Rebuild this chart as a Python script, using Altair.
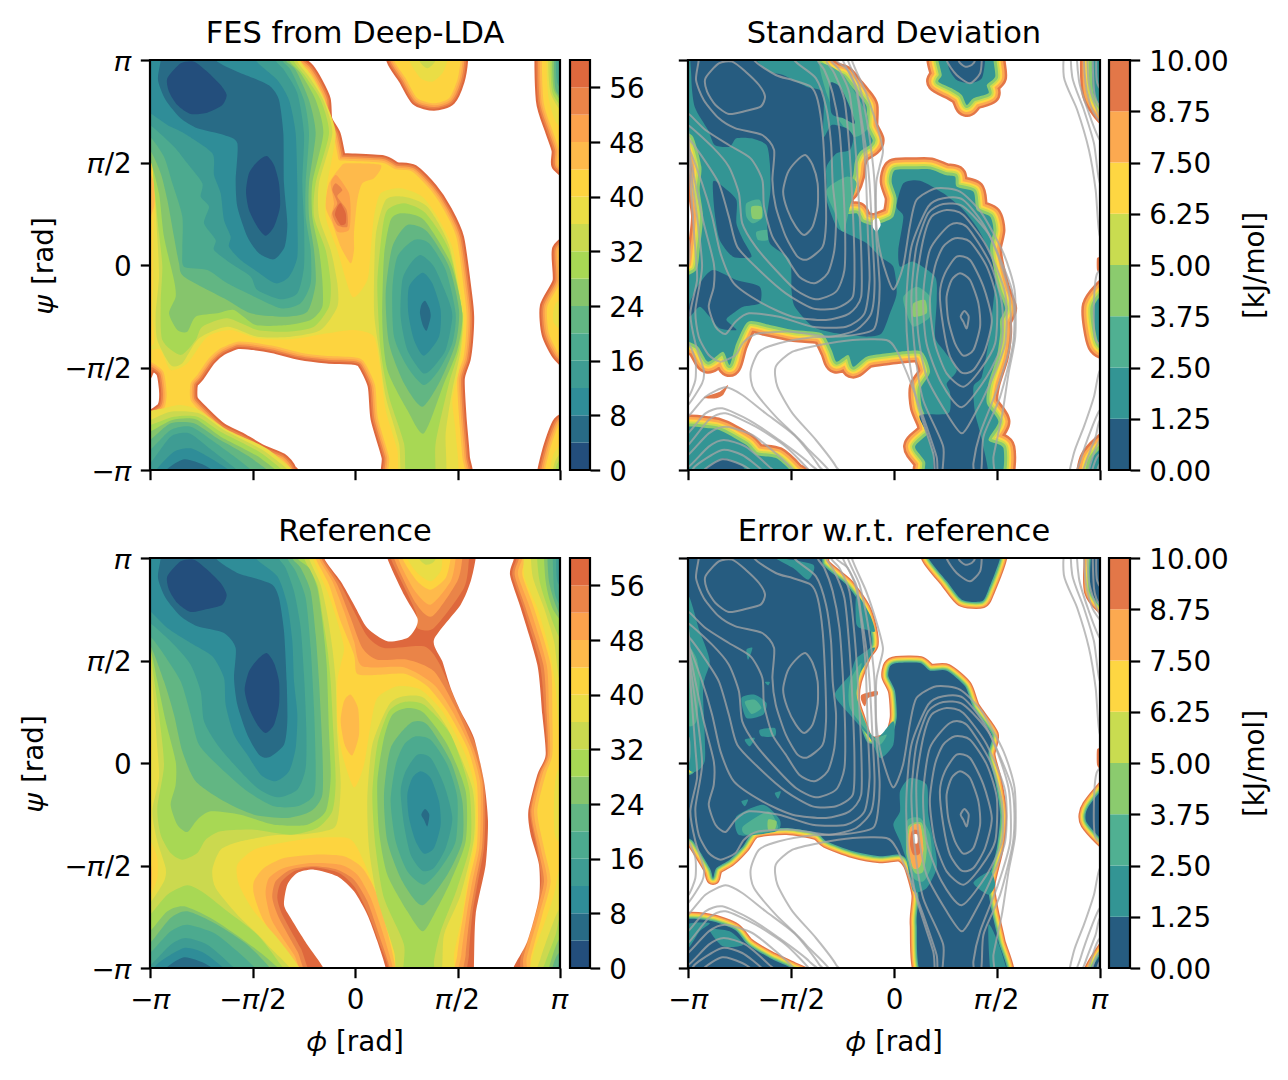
import math
import altair as alt
import pandas as pd

PI = math.pi
FONT = "DejaVu Sans"
FS = 27.8

FES_COLORS = ["#234e7c", "#286b86", "#2f8d98", "#3e9c93", "#4caa8f", "#62b683", "#86c56c", "#a8d854",
              "#cbd94f", "#eadd45", "#fdd43f", "#feba4b", "#fca24c", "#ea8448", "#de683d"]
ERR_COLORS = ["#265c80", "#339594", "#50b092", "#8bcb6e", "#c9dc50", "#fed642", "#fca950", "#e37748"]
FES_TICKS = [0, 8, 16, 24, 32, 40, 48, 56]
ERR_TICKS = [0, 1.25, 2.5, 3.75, 5, 6.25, 7.5, 8.75, 10]

# contours, flat x,y pairs on a 1230-bin grid per axis
# ---- reference FES, sublevel sets ----
REF_L4 = [[80,85,120,40,160,35,200,65,240,105,258,140,245,170,200,183,150,192,110,165,85,125],
          [378,315,400,345,415,400,415,470,400,530,375,555,350,530,325,480,312,425,325,370,350,335]]
REF_L8 = [[52,90,75,150,120,205,170,235,250,255,285,300,280,390,290,470,320,560,355,620,385,628,430,590,440,520,438,400,430,250,415,150,395,110,340,90,290,75,225,30,225,-30,60,-30,60,30],
          [853,783,866,800,860,835,850,815,842,800],
          [75,1262,130,1228,190,1245,225,1270,225,1300,75,1300]]
REF_L12 = [[0,190,28,190,80,240,150,285,215,325,250,390,255,470,280,560,320,620,360,680,405,700,445,670,465,600,470,500,460,400,455,280,440,170,410,85,345,30,345,-30,0,-30],
           [840,670,870,690,895,760,900,830,880,900,850,917,825,880,805,810,800,740,815,690],
           [40,1262,60,1240,130,1200,190,1215,250,1262,270,1300,40,1300]]
REF_L16 = [[0,225,28,225,100,290,150,350,180,430,190,520,230,590,290,660,350,720,410,748,470,725,495,660,497,540,490,380,480,240,460,130,435,60,415,30,415,-30,0,-30],
           [830,620,870,630,910,710,935,810,915,900,880,960,845,968,810,920,790,830,780,730,795,670],
           [0,1250,30,1250,90,1190,135,1170,200,1190,270,1250,310,1300,0,1300],
           [1252,-30,1250,100,1300,140,1300,-30]]
REF_L20 = [[0,265,28,265,70,320,120,400,150,500,175,590,240,660,320,730,400,775,470,775,520,740,525,640,520,480,510,300,495,150,465,70,440,30,440,-30,0,-30],
           [825,565,870,575,920,650,950,750,945,880,900,960,850,1010,800,970,765,880,750,760,765,650,790,590],
           [0,1215,28,1215,90,1150,140,1130,220,1155,290,1210,345,1262,370,1300,0,1300],
           [1240,-30,1240,120,1258,170,1300,170,1300,-30],
           [1245,1300,1258,1240,1300,1230,1300,1300]]
REF_L24 = [[0,290,28,290,70,400,100,500,125,610,165,700,250,760,340,800,440,810,510,790,545,740,545,600,535,400,525,260,510,130,480,60,455,30,455,-30,0,-30],
           [810,525,860,530,930,640,965,760,965,880,920,980,845,1072,785,1000,740,880,730,740,750,600],
           [0,1185,28,1185,90,1110,140,1090,230,1130,320,1190,390,1262,410,1300,0,1300],
           [1225,-30,1225,100,1258,200,1300,210,1300,-30],
           [1230,1300,1250,1220,1300,1200,1300,1300]]
REF_L28 = [[0,300,28,300,50,400,75,520,105,640,105,710,90,770,110,830,140,852,170,815,210,790,300,800,400,830,500,830,555,790,570,690,565,550,558,350,545,220,530,120,505,60,470,30,470,-30,0,-30],
           [800,480,850,495,920,590,975,730,975,880,930,1000,880,1100,845,1150,800,1090,740,980,715,850,710,700,730,570,755,500],
           [0,1150,28,1150,80,1090,130,1075,210,1110,300,1170,390,1240,420,1300,0,1300],
           [1215,-30,1215,100,1240,190,1300,240,1300,-30],
           [1220,1300,1235,1225,1258,1170,1300,1160,1300,1300]]
REF_L32 = [[0,240,28,240,35,350,55,500,70,650,50,780,60,860,90,915,125,935,170,915,195,875,240,850,340,845,450,860,530,840,575,790,585,700,578,550,570,400,560,300,545,200,530,110,490,30,490,-30,0,-30],
           [745,490,790,462,850,470,930,560,985,720,990,880,950,1020,900,1150,880,1240,880,1300,790,1300,790,1190,730,1050,705,900,695,740,710,590],
           [0,1100,28,1100,80,1040,140,1012,190,1035,260,1090,350,1160,420,1250,440,1300,0,1300],
           [1195,-30,1195,90,1225,190,1258,270,1300,270,1300,-30],
           [1200,1300,1215,1240,1245,1160,1258,1110,1300,1110,1300,1300]]
REF_L36 = [[0,-30,505,-30,505,30,540,110,560,200,575,300,585,400,590,560,600,700,595,790,580,840,500,858,400,862,300,880,240,905,215,965,225,1020,290,1100,380,1190,450,1300,0,1300,0,1070,28,1065,70,1000,75,960,50,880,35,790,55,690,50,600,35,400,28,250,0,240],
           [745,470,790,445,850,450,920,540,995,720,1000,870,960,1040,910,1160,895,1300,775,1300,760,1210,710,1050,685,900,680,750,695,590],
           [835,-30,835,30,855,50,875,45,885,30,885,-30],
           [1180,-30,1175,80,1210,180,1240,280,1258,400,1300,400,1300,-30],
           [1185,1300,1200,1230,1235,1130,1258,1080,1300,1060,1300,1300]]
REF_L40 = [[0,-30,517,-30,517,30,560,130,590,220,610,300,600,350,590,400,590,520,605,620,640,718,670,650,690,530,710,450,770,415,840,425,905,490,970,610,1003,720,1005,860,985,970,965,1100,940,1220,935,1300,785,1300,770,1220,730,1100,690,990,650,900,620,870,520,870,420,885,340,905,290,950,295,1010,340,1090,410,1170,470,1250,480,1300,0,1300,0,1060,30,1040,50,990,50,930,30,880,0,860,0,660,30,640,30,570,0,550],
           [800,-30,800,30,830,75,870,100,900,70,905,30,905,-30],
           [1165,-30,1150,80,1190,180,1225,300,1245,420,1258,560,1300,560,1300,-30],
           [1300,650,1250,670,1240,760,1245,870,1300,880],
           [1300,960,1258,960,1240,1040,1210,1130,1180,1210,1170,1300,1300,1300]]
# reference FES, superlevel sets painted over the base colour
REF_H44 = [[525,-30,525,30,565,110,600,220,640,320,650,378,720,380,795,378,860,415,920,490,980,600,1008,700,1012,800,1008,900,985,1000,968,1100,950,1220,950,1300,1160,1300,1170,1230,1205,1100,1230,1000,1210,900,1190,790,1215,680,1235,620,1235,500,1230,350,1180,180,1145,80,1155,30,1155,-30,930,-30,930,30,915,90,870,125,830,100,785,30,785,-30],
           [495,1300,440,1220,370,1120,340,1040,340,1000,370,960,430,930,520,920,610,925,665,960,705,1030,740,1150,765,1260,765,1300],
           [630,440,652,480,655,560,635,622,612,590,600,520,610,460],
           [10,900,33,960,30,1030,10,1040]]
REF_H48 = [[535,-30,535,30,575,100,610,190,640,280,665,355,790,358,880,410,935,490,990,600,1018,700,1020,800,1016,900,995,1000,978,1100,962,1220,960,1300,1150,1300,1158,1230,1195,1100,1220,1000,1200,900,1180,790,1205,680,1228,620,1225,500,1218,350,1168,180,1132,80,1145,30,1145,-30,945,-30,945,30,930,100,870,170,820,125,772,30,772,-30],
           [510,1300,460,1220,395,1120,375,1040,385,990,430,960,510,945,600,950,650,980,690,1050,725,1150,757,1260,757,1300]]
REF_H52 = [[542,-30,542,30,590,110,630,210,665,300,710,335,800,335,880,370,945,480,998,600,1025,700,1028,800,1024,900,1005,1000,988,1100,975,1220,975,1300,1140,1300,1148,1230,1185,1100,1210,1000,1192,900,1172,790,1198,680,1222,620,1218,500,1208,350,1155,180,1122,80,1135,30,1135,-30,965,-30,965,30,950,100,875,205,825,165,760,30,760,-30],
           [520,1300,470,1210,415,1110,395,1050,405,1000,450,965,520,955,590,965,640,995,680,1060,715,1160,748,1260,748,1300]]
REF_H56 = [[548,-30,548,30,600,110,640,190,680,265,730,300,850,295,895,345,950,470,1005,590,1030,700,1034,800,1030,900,1012,1000,995,1100,985,1220,985,1300,1130,1300,1140,1230,1180,1100,1202,1000,1188,900,1168,790,1194,680,1218,620,1212,500,1198,350,1148,180,1115,80,1128,30,1128,-30,985,-30,985,30,970,120,880,240,830,240,825,190,750,30,750,-30],
           [532,1300,480,1200,425,1100,410,1050,420,1005,460,970,520,958,595,975,640,1015,675,1080,710,1170,742,1300]]
REF_H60 = [[550,-30,550,30,600,100,640,170,680,240,740,280,800,270,825,240,830,210,790,140,740,30,740,-30],
           [1005,-30,1005,30,990,100,960,170,880,275,905,340,930,420,960,490,1000,570,1030,700,1042,820,1035,950,1005,1100,1000,1260,1000,1300,1118,1300,1118,1260,1160,1180,1195,1050,1195,950,1170,860,1163,790,1190,680,1215,620,1205,500,1190,350,1140,180,1108,80,1120,30,1120,-30],
           [548,1300,548,1260,500,1190,450,1110,430,1070,440,1010,470,975,520,965,590,985,640,1030,680,1100,710,1180,735,1260,735,1300]]
REF_BASE = [[-30,-30,1300,-30,1300,1300,-30,1300]]

# ---- FES from Deep-LDA ----
LDA_L44 = [[0,-30,470,-30,470,30,500,60,525,100,548,150,553,210,578,255,590,310,595,330,620,332,725,338,765,358,815,365,870,420,910,480,948,565,972,735,978,800,975,870,968,925,950,985,955,1100,965,1220,965,1300,755,1300,745,1220,712,1105,703,1005,670,935,640,922,560,918,480,908,400,888,340,878,290,875,240,895,205,925,170,975,150,1000,150,1050,185,1090,240,1140,300,1170,360,1205,420,1230,445,1260,440,1300,0,1300,0,1105,30,1103,70,1075,78,1030,68,965,30,935,0,925],
           [760,-30,760,30,795,85,830,145,880,160,925,145,950,90,960,30,960,-30],
           [1210,-30,1208,150,1235,240,1255,300,1255,345,1300,345,1300,-30],
           [1300,600,1256,600,1258,695,1220,770,1225,850,1258,915,1300,925],
           [1300,1120,1258,1120,1225,1210,1212,1300,1300,1300]]
LDA_H44 = [[620,340,720,345,700,385,665,400,650,450,640,550,640,600,630,640,600,590,575,520,555,470,565,400,600,350],
           [15,350,40,400,40,470,15,520],
           [15,620,32,660,15,700]]
LDA_H48 = [[585,375,600,390,625,430,630,480,625,540,590,545,572,500,580,460,570,400]]
LDA_H52 = [[585,400,605,420,590,440,618,480,620,530,590,525,575,490,590,460,575,420]]
LDA_H56 = [[600,460,615,490,615,520,600,525,583,495,590,470]]
LDA_L40 = [[0,-30,478,-30,478,30,515,80,552,150,585,250,560,400,555,500,590,600,635,740,680,690,690,600,700,500,720,430,780,415,845,440,890,500,935,590,955,700,970,800,965,880,955,960,935,1050,945,1150,945,1300,785,1300,770,1200,735,1080,720,960,700,860,640,840,560,850,450,868,350,865,270,840,200,860,140,940,90,960,60,900,30,900,0,900,40,880,35,790,38,700,38,620,40,520,45,400,30,300,0,260],
           [800,-30,805,30,840,85,875,95,905,70,920,30,920,-30],
           [1222,-30,1222,130,1248,220,1300,230,1300,-30],
           [1300,740,1245,760,1240,820,1300,860],
           [1300,1150,1240,1210,1228,1300,1300,1300],
           [0,1105,70,1075,120,1065,175,1080,260,1140,385,1200,460,1300,0,1300]]
LDA_L36 = [[0,-30,468,-30,468,30,505,80,548,150,575,250,535,400,535,500,570,600,590,700,590,770,540,840,450,860,350,860,260,830,175,865,125,940,90,945,50,870,45,790,55,680,50,560,40,400,28,290,0,290],
           [835,-30,835,30,860,55,885,30,885,-30],
           [735,450,790,440,860,470,925,585,965,790,960,900,935,1020,915,1150,910,1300,790,1300,775,1180,735,1040,715,900,700,780,705,560],
           [1228,-30,1230,130,1300,215,1300,-30],
           [1300,1175,1245,1230,1236,1300,1300,1300],
           [0,1110,28,1110,90,1085,175,1090,250,1140,380,1210,450,1300,0,1300]]
LDA_L32 = [[0,-30,458,-30,458,30,495,80,540,150,565,250,525,400,520,500,555,600,570,700,565,770,520,830,440,845,350,840,260,805,185,830,165,870,120,915,65,870,60,760,65,650,55,550,40,400,28,270,0,270],
           [740,480,790,460,855,490,925,600,965,790,955,900,925,1000,885,1180,880,1300,800,1300,790,1180,745,1040,720,900,710,700,725,540],
           [1234,-30,1236,130,1300,190,1300,-30],
           [1300,1190,1250,1240,1242,1300,1300,1300],
           [0,1125,28,1125,100,1100,170,1100,240,1145,370,1215,430,1300,0,1300]]
LDA_L28 = [[0,-30,445,-30,445,30,480,70,525,150,548,250,515,400,515,500,535,600,545,690,545,770,510,810,440,825,345,825,280,780,230,790,165,800,140,845,110,840,85,790,105,740,100,690,70,560,55,430,28,330,0,330],
           [785,490,850,510,930,640,965,790,950,900,910,1000,850,1150,800,1080,740,960,725,820,730,620,750,510],
           [1240,-30,1240,120,1300,170,1300,-30],
           [1300,1205,1248,1300,1300,1300],
           [0,1145,28,1145,95,1110,165,1108,240,1160,360,1225,415,1300,0,1300]]
LDA_L24 = [[0,-30,435,-30,435,30,465,60,505,150,525,250,505,400,505,500,520,600,525,700,500,785,430,800,330,790,250,745,130,680,115,640,100,560,80,450,60,370,28,300,0,300],
           [800,525,860,545,925,650,955,780,945,880,900,990,845,1070,790,1000,745,880,735,730,755,590],
           [1245,-30,1245,120,1300,150,1300,-30],
           [1300,1225,1253,1300,1300,1300],
           [0,1170,28,1170,90,1120,160,1120,230,1165,340,1230,395,1300,0,1300]]
LDA_L20 = [[0,-30,425,-30,425,30,450,60,490,150,505,250,495,400,495,500,510,600,510,700,480,760,420,775,320,730,260,700,200,660,130,650,125,600,125,500,95,400,70,320,28,260,0,260],
           [820,570,865,580,915,660,945,790,935,880,895,960,850,1005,800,950,760,860,755,720,770,620],
           [1250,-30,1250,100,1300,130,1300,-30],
           [0,1200,28,1200,90,1140,150,1130,220,1175,320,1250,350,1300,0,1300]]
LDA_L16 = [[0,-30,405,-30,405,30,430,60,470,130,490,250,485,400,490,520,490,650,470,730,420,748,350,720,330,680,270,640,220,600,225,570,190,520,205,470,180,440,185,400,140,340,100,290,28,225,0,225],
           [840,615,880,650,920,740,935,800,915,900,870,960,845,968,800,900,780,800,785,690,810,640],
           [0,1240,28,1240,90,1160,145,1150,200,1190,290,1260,320,1300,0,1300]]
LDA_L12 = [[0,190,28,190,80,225,130,250,215,310,220,375,240,430,250,510,270,560,265,590,300,630,350,665,405,700,445,680,470,620,470,500,470,400,465,250,445,150,410,90,345,30,345,-30,0,-30],
           [845,668,875,700,900,780,895,860,850,917,820,870,803,790,805,710],
           [45,1262,100,1205,150,1195,210,1225,270,1265,280,1300,45,1300]]
LDA_L8 = [[52,90,75,150,120,205,170,235,250,255,290,280,285,390,290,470,320,560,355,610,400,628,432,590,440,520,430,400,428,250,415,150,390,110,340,85,290,65,225,30,225,-30,60,-30,60,30],
          [853,752,866,775,870,800,858,842,846,825,838,790,842,765],
          [75,1262,130,1228,190,1245,225,1270,225,1300,75,1300]]
LDA_L4 = [[80,85,120,40,160,35,200,65,240,105,258,135,245,165,200,188,150,192,110,165,85,125],
          [378,318,400,345,415,400,418,470,400,530,375,557,350,530,325,480,316,425,325,370,350,335]]

# ---- standard deviation ----
STD_RIM = [[0,-30,400,-30,410,30,460,70,490,80,515,110,540,140,560,170,560,230,578,270,570,285,540,305,525,335,520,375,505,415,485,440,495,490,530,490,545,515,575,525,600,520,640,500,650,445,635,395,645,360,700,358,750,358,795,375,825,380,830,410,880,425,890,480,930,500,940,540,930,590,935,640,955,720,975,775,960,810,960,850,950,920,925,1000,920,1060,955,1115,925,1170,970,1195,950,1300,745,1300,735,1235,705,1190,745,1150,745,1120,725,1070,722,1015,750,965,725,905,660,905,620,910,560,920,520,950,505,915,470,935,455,900,425,850,340,840,270,825,205,815,170,880,150,945,130,905,85,935,55,890,0,850,0,700,50,660,60,600,70,500,60,420,65,350,40,260,0,220],
           [775,-30,775,30,785,75,775,95,815,115,845,135,860,165,880,145,925,130,920,105,945,80,940,30,940,-30],
           [1240,-30,1240,130,1300,200,1300,-30],
           [1300,710,1240,770,1255,880,1300,885],
           [1300,1170,1235,1225,1225,1300,1300,1300],
           [0,1140,90,1135,130,1145,200,1185,230,1215,290,1225,340,1270,360,1300,0,1300]]
STD_LOW = [[45,-30,35,80,45,170,85,240,105,285,150,290,170,265,215,265,260,285,270,340,272,420,262,500,270,580,330,630,335,720,345,770,400,830,470,850,560,860,605,850,630,790,650,730,640,650,600,620,560,580,500,550,470,530,440,450,440,400,440,350,470,310,510,300,520,260,500,235,455,225,430,260,430,130,380,110,310,75,270,65,230,30,230,-30],
           [670,400,720,392,790,430,850,480,895,540,930,610,945,690,935,800,925,880,905,980,880,1010,885,1090,905,1170,920,1300,770,1300,760,1210,735,1140,720,1095,805,1090,810,1030,800,1000,830,960,790,900,765,860,770,750,765,680,700,635,660,650,655,600,670,500,650,470],
           [100,395,130,410,170,450,170,520,190,570,215,620,160,620,120,570,105,490],
           [60,700,100,660,170,690,240,710,240,760,190,770,160,790,140,810,170,840,120,835,90,800,60,770,30,800,30,760],
           [805,-30,805,50,830,90,870,100,905,85,915,30,915,-30],
           [70,1262,130,1225,190,1250,200,1300,60,1300],
           [450,100,480,110,505,160,525,220,490,205,455,190]]
STD_MID = [[200,460,240,450,250,500,220,520,200,500],
           [230,545,270,540,265,570,235,570],
           [670,740,710,710,750,740,750,800,700,830,680,790],
           [440,420,500,380,530,400,510,470,490,550,470,500],
           [420,40,490,75,560,190,560,240,520,260,470,200,440,130]]
STD_HIGH = [[215,470,245,470,245,505,218,505],
            [700,760,735,750,740,790,700,800]]
STD_HOLE = [[580,510,595,505,602,525,590,545,578,530]]
STD_BLIP = [[75,1040,120,1025,145,1005,130,1035,110,1045,78,1045],
            [1250,625,1260,625,1260,665,1250,660]]

# ---- error w.r.t. reference ----
ERR_RIM = [[0,-30,400,-30,430,50,500,110,550,180,570,240,575,290,555,320,525,400,520,460,535,510,565,585,630,570,650,510,645,430,625,385,630,355,650,345,720,345,750,368,800,368,855,415,880,480,935,560,925,620,945,700,960,800,950,900,925,1010,935,1090,955,1180,975,1300,735,1300,710,1130,715,1040,690,950,660,920,600,925,520,910,440,880,410,855,320,840,225,850,190,895,150,935,110,960,100,990,90,960,40,880,0,850,0,700,45,670,60,560,70,420,50,300,0,230],
           [740,-30,745,30,800,100,845,155,905,160,925,125,960,30,960,-30],
           [1240,-30,1232,130,1300,190,1300,-30],
           [1300,700,1225,775,1220,825,1300,895],
           [1300,1170,1235,1260,1235,1300,1300,1300],
           [0,1125,90,1118,165,1145,205,1190,270,1230,330,1258,390,1300,0,1300]]
ERR_T1 = [[660,730,690,690,740,710,745,800,765,900,770,960,740,1020,700,1030,680,940,660,880,640,830,660,790],
          [185,450,225,440,260,465,250,500,200,510],
          [240,545,285,540,285,565,245,565],
          [195,575,225,570,210,595],
          [200,305,218,300,205,335],
          [255,402,270,402,265,412],
          [285,735,303,730,295,752],
          [185,760,205,755,195,775],
          [170,805,250,770,300,815,290,850,180,862],
          [290,30,400,50,385,95,340,60],
          [465,440,510,380,530,330,585,300,530,400,540,510,590,570,640,520,640,590,600,630,570,570,510,500],
          [530,140,570,200,585,250,560,245,530,230],
          [20,150,60,250,90,340,70,420,75,640,20,640],
          [880,1005,930,970,945,1010,925,1040],
          [925,1130,960,1200,985,1300,935,1300],
          [20,1130,90,1125,60,1150,25,1200],
          [90,1145,150,1150,190,1190,130,1195]]
ERR_T2 = [[680,820,720,810,750,860,755,950,730,1000,700,990,680,930],
          [195,462,225,455,245,480,215,498],
          [510,400,545,345,530,440,555,520,580,570,620,560,600,590,570,560,510,480],
          [20,300,50,330,60,400,50,520,20,520],
          [190,835,265,790,295,835,280,848,200,860]]
ERR_T3 = [[685,835,725,825,740,900,730,970,705,975,680,920],
          [265,815,290,820,285,845,265,845]]
ERR_T4 = [[690,840,720,830,730,900,720,955,700,960,685,900]]
ERR_T5 = [[695,850,715,850,720,915,700,920,690,890]]
ERR_HOLE = [[700,860,712,860,712,885,702,885]]
ERR_BLIP = [[545,440,590,428,592,442,565,450,555,475,545,460],
            [1250,605,1260,605,1260,660,1250,650]]

REF_LINES = REF_L4 + REF_L8 + REF_L12 + REF_L16 + REF_L20 + REF_L24 + REF_L28 + REF_L32 + REF_L36 + REF_L40


def table(polys, cx=643, half=615):
    rows = []
    for p, flat in enumerate(polys):
        for i in range(0, len(flat), 2):
            rows.append({"poly": p, "i": i,
                         "phi": round((flat[i] - cx) / half * PI, 4),
                         "psi": round((645 - flat[i + 1]) / 615 * PI, 4)})
    return pd.DataFrame(rows)


dom = alt.Scale(domain=[-PI, PI], nice=False, zero=False)
x_in = alt.X("phi:Q", scale=dom)
y_in = alt.Y("psi:Q", scale=dom)


def fills(polys, color, cx=643, half=615):
    return alt.Chart(table(polys, cx, half)).mark_line(
        interpolate="cardinal-closed", tension=0.3, fill=color, strokeWidth=0, clip=True
    ).encode(x=x_in, y=y_in, detail="poly:N", order="i:Q")


def rim(polys, color, width, cx=642, half=617):
    return alt.Chart(table(polys, cx, half)).mark_line(
        interpolate="cardinal-closed", tension=0.3, stroke=color, strokeWidth=width,
        strokeJoin="round", clip=True
    ).encode(x=x_in, y=y_in, detail="poly:N", order="i:Q")


def lines():
    return alt.Chart(table(REF_LINES)).mark_line(
        interpolate="cardinal-closed", tension=0.3, stroke="#a6a6a6", strokeOpacity=0.75,
        strokeWidth=2, clip=True
    ).encode(x=x_in, y=y_in, detail="poly:N", order="i:Q")


PI_LABELS = ("datum.value < -3 ? '\u2212\U0001D70B' : datum.value < -1 ? '\u2212\U0001D70B/2' : "
             "datum.value < 1 ? '0' : datum.value < 2 ? '\U0001D70B/2' : '\U0001D70B'")
PI_TICKS = [-PI, -PI / 2, 0, PI / 2, PI]


def axes_layer(show_x, show_y, y_pad=None):
    x_ax = alt.Axis(values=PI_TICKS, labelExpr=PI_LABELS, labels=show_x, grid=False, domain=False,
                    labelFlush=False, title="\U0001D719 [rad]" if show_x else "", titlePadding=14)
    y_ax = alt.Axis(values=PI_TICKS, labelExpr=PI_LABELS, labels=show_y, grid=False, domain=False, labelOffset=2,
                    labelFlush=False, title="\U0001D713 [rad]" if show_y else "", titlePadding=y_pad or 5)
    return alt.Chart(pd.DataFrame({"phi": [-PI, PI], "psi": [-PI, PI]})).mark_point(opacity=0).encode(
        x=alt.X("phi:Q", scale=dom, axis=x_ax), y=alt.Y("psi:Q", scale=dom, axis=y_ax))


def panel(layers, title, show_x, show_y, y_pad=None, w=410):
    edge = alt.Chart(pd.DataFrame({"phi": [-PI], "phi2": [PI], "psi": [-PI], "psi2": [PI]})).mark_rect(
        filled=False, stroke="black", strokeWidth=2.2
    ).encode(x=x_in, x2="phi2:Q", y=y_in, y2="psi2:Q")
    return alt.layer(axes_layer(show_x, show_y, y_pad), *layers, edge).properties(
        width=w, height=410,
        title=alt.TitleParams(title, fontSize=30.5, font=FONT, fontWeight="normal",
                              offset=-1 if show_y else 8, anchor="middle"))


def colorbar(colors, top, ticks, title=None, fmt=None, w=20):
    n = len(colors)
    df = pd.DataFrame({"lo": [top * k / n for k in range(n)],
                       "hi": [top * (k + 1) / n for k in range(n)], "c": colors})
    scale = alt.Scale(domain=[0, top], nice=False, zero=False)
    axis = alt.Axis(values=ticks, orient="right", grid=False, domain=False, title=title or "", labelOffset=2,
                    titleAngle=270, titlePadding=41, format=fmt or "d", labelOverlap=False, labelFlush=False)
    cells = alt.Chart(df).mark_rect().encode(
        y=alt.Y("lo:Q", scale=scale, axis=axis), y2="hi:Q",
        x=alt.value(0), x2=alt.value(w),
        fill=alt.Fill("c:N", scale=None),
    )
    edge = alt.Chart(pd.DataFrame({"lo": [0], "hi": [top]})).mark_rect(
        filled=False, stroke="black", strokeWidth=2.2
    ).encode(y=alt.Y("lo:Q", scale=scale), y2="hi:Q", x=alt.value(0), x2=alt.value(w))
    return alt.layer(cells, edge).properties(width=w, height=410)


def spacer(w):
    return alt.Chart(pd.DataFrame({"a": [0]})).mark_point(opacity=0).encode(
        x=alt.value(0), y=alt.value(0)).properties(width=w, height=410)


def fes_panel_lda():
    layers = []
    for color, width in zip(FES_COLORS[14:10:-1], [15, 11, 7.5, 4]):
        layers.append(rim(LDA_L44, color, width, 643, 615))
    layers.append(fills(LDA_L44, FES_COLORS[10]))
    for polys, color in zip([LDA_H44, LDA_H48, LDA_H52, LDA_H56], FES_COLORS[11:]):
        layers.append(fills(polys, color))
    sets = [LDA_L40, LDA_L36, LDA_L32, LDA_L28, LDA_L24, LDA_L20, LDA_L16, LDA_L12, LDA_L8, LDA_L4]
    for polys, color in zip(sets, FES_COLORS[9::-1]):
        layers.append(fills(polys, color))
    return panel(layers, "FES from Deep-LDA", False, True, y_pad=5)


def fes_panel_ref():
    layers = [fills(REF_BASE, FES_COLORS[10])]
    for polys, color in zip([REF_H44, REF_H48, REF_H52, REF_H56], FES_COLORS[11:]):
        layers.append(fills(polys, color))
    layers.append(fills(REF_H60, "white"))
    sets = [REF_L40, REF_L36, REF_L32, REF_L28, REF_L24, REF_L20, REF_L16, REF_L12, REF_L8, REF_L4]
    for polys, color in zip(sets, FES_COLORS[9::-1]):
        layers.append(fills(polys, color))
    return panel(layers, "Reference", True, True, y_pad=15)


def std_panel():
    layers = []
    for color, width in zip(ERR_COLORS[7:2:-1], [24, 19, 14, 10, 6]):
        layers.append(rim(STD_RIM, color, width))
    layers.append(fills(STD_RIM, ERR_COLORS[1], 642, 617))
    layers.append(fills(STD_MID, ERR_COLORS[2], 642, 617))
    layers.append(fills(STD_HIGH, ERR_COLORS[3], 642, 617))
    layers.append(fills(STD_LOW, ERR_COLORS[0], 642, 617))
    layers.append(fills(STD_HOLE, "white", 642, 617))
    layers.append(fills(STD_BLIP, ERR_COLORS[7], 642, 617))
    layers.append(lines())
    return panel(layers, "Standard Deviation", False, False, w=412)


def err_panel():
    layers = []
    for color, width in zip(ERR_COLORS[7:1:-1], [14, 11.5, 9, 6.5, 4.5, 2.5]):
        layers.append(rim(ERR_RIM, color, width))
    layers.append(fills(ERR_RIM, ERR_COLORS[0], 642, 617))
    for polys, color in zip([ERR_T1, ERR_T2, ERR_T3, ERR_T4], ERR_COLORS[1:5]):
        layers.append(fills(polys, color, 642, 617))
    layers.append(fills(ERR_T4, ERR_COLORS[6], 642, 617))
    layers.append(fills(ERR_T5, ERR_COLORS[7], 642, 617))
    layers.append(fills(ERR_HOLE, "white", 642, 617))
    layers.append(fills(ERR_BLIP, ERR_COLORS[7], 642, 617))
    layers.append(lines())
    return panel(layers, "Error w.r.t. reference", True, False, w=412)


cells = [
    fes_panel_lda(), spacer(10), colorbar(FES_COLORS, 60, FES_TICKS), spacer(98),
    std_panel(), spacer(9), colorbar(ERR_COLORS, 10, ERR_TICKS, "[kJ/mol]", ".2f", 21),
    fes_panel_ref(), spacer(10), colorbar(FES_COLORS, 60, FES_TICKS), spacer(98),
    err_panel(), spacer(9), colorbar(ERR_COLORS, 10, ERR_TICKS, "[kJ/mol]", ".2f", 21),
]

chart = alt.concat(*cells, columns=7, spacing={"row": 88, "column": 0}, bounds="flush").properties(
    padding={"left": 12, "top": 10, "right": 2, "bottom": 2}
).configure_view(
    strokeWidth=0
).configure_axis(
    labelFont=FONT, titleFont=FONT, labelFontSize=FS, titleFontSize=FS, titleFontWeight="normal",
    labelColor="black", titleColor="black", tickColor="black", tickWidth=2.2, tickSize=9.7, labelPadding=9,
    grid=False
)

chart.save("out.html", embed_options={"renderer": "svg", "actions": False})
